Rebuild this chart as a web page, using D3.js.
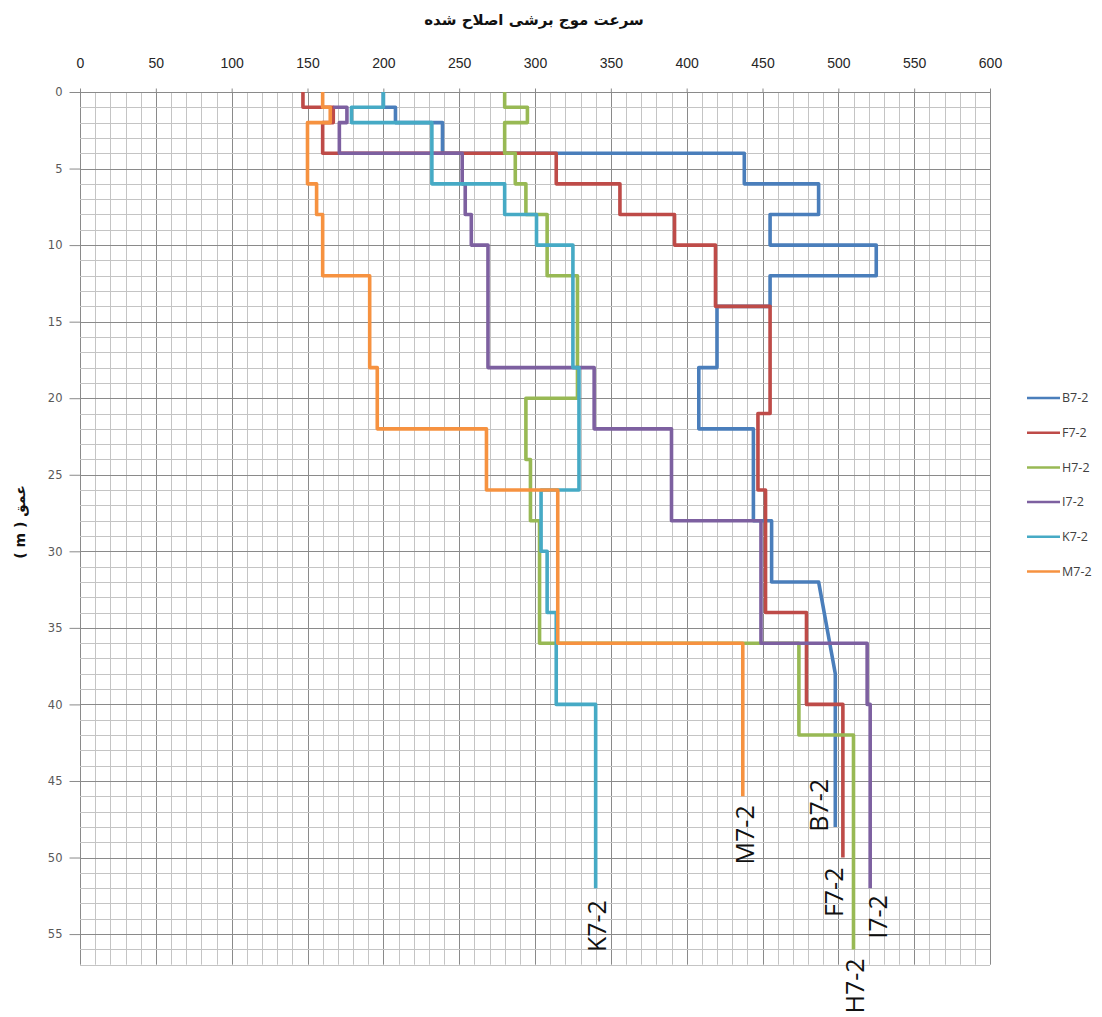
<!DOCTYPE html>
<html>
<head>
<meta charset="utf-8">
<script src="https://cdn.jsdelivr.net/npm/d3@7"></script>
<style>
  body { margin: 0; background: #fff; }
  svg { display: block; }
</style>
</head>
<body>
<svg id="chart" width="1102" height="1017"></svg>
<script>
// Corrected shear-wave velocity profiles, vertices as [velocity (m/s), depth (m)]
const B7_2 = [[200,0],[200,1],[208,1],[208,2],[239,2],[239,4],[438,4],[438,6],[487,6],[487,8],
  [455,8],[455,10],[525,10],[525,12],[455,12],[455,14],[420,14],[420,18],[408,18],[408,22],
  [444,22],[444,28],[456,28],[456,32],[487,32],[498,38],[498,48]];
const F7_2 = [[147,0],[147,1],[167,1],[167,2],[160,2],[160,4],[314,4],[314,6],[356,6],[356,8],
  [392,8],[392,10],[419,10],[419,14],[455,14],[455,21],[447,21],[447,26],[452,26],[452,34],
  [479,34],[479,40],[503,40],[503,50]];
const H7_2 = [[280,0],[280,1],[295,1],[295,2],[280,2],[280,4],[287,4],[287,6],[294,6],[294,8],
  [308,8],[308,12],[328,12],[328,20],[294,20],[294,24],[297,24],[297,28],[303,28],[303,36],
  [474,36],[474,42],[510,42],[510,56]];
const I7_2 = [[167,1],[176,1],[176,2],[171,2],[171,4],[252,4],[252,6],[254,6],[254,8],[258,8],
  [258,10],[269,10],[269,18],[339,18],[339,22],[390,22],[390,28],[449,28],[449,36],[519,36],
  [519,40],[521,40],[521,52]];
const K7_2 = [[200,0],[200,1],[179,1],[179,2],[232,2],[232,6],[280,6],[280,8],[301,8],[301,10],
  [325,10],[325,18],[329,18],[329,26],[304,26],[304,30],[308,30],[308,34],[314,34],[314,40],
  [340,40],[340,52]];
const M7_2 = [[160,0],[160,1],[165,1],[165,2],[150,2],[150,6],[156,6],[156,8],[160,8],[160,12],
  [191,12],[191,18],[196,18],[196,22],[268,22],[268,26],[315,26],[315,36],[437,36],[437,46]];

const seriesNames = ["B7-2", "F7-2", "H7-2", "I7-2", "K7-2", "M7-2"];
const seriesData = [B7_2, F7_2, H7_2, I7_2, K7_2, M7_2];
const seriesColors = ["#4A7EBB", "#BE4B48", "#98B954", "#7D60A0", "#46AAC5", "#F69240"];

const velocityTicks = [0, 50, 100, 150, 200, 250, 300, 350, 400, 450, 500, 550, 600];
const depthTicks = [0, 5, 10, 15, 20, 25, 30, 35, 40, 45, 50, 55];

const titleText = "سرعت موج برشی اصلاح شده";
const depthTitle = "عمق ( m )";

const svg = d3.select("#chart");

const x = d3.scaleLinear().domain([0, 600]).range([80, 990]);
const y = d3.scaleLinear().domain([0, 57]).range([92, 964.7]);

// background grid: minor every 10 m/s and 1 m, major every 50 m/s and 5 m
const grid = svg.append("g");
grid.selectAll("line.vminor")
  .data(d3.range(0, 601, 10))
  .join("line")
  .attr("x1", d => Math.round(x(d)) + 0.5).attr("x2", d => Math.round(x(d)) + 0.5)
  .attr("y1", y(0)).attr("y2", y(57))
  .attr("stroke", d => d % 50 === 0 ? "#8a8a8a" : "#c4c4c4")
  .attr("stroke-width", 1);
grid.selectAll("line.hminor")
  .data(d3.range(0, 58, 1))
  .join("line")
  .attr("y1", d => Math.round(y(d)) + 0.5).attr("y2", d => Math.round(y(d)) + 0.5)
  .attr("x1", x(0)).attr("x2", x(600))
  .attr("stroke", d => d % 5 === 0 ? "#8a8a8a" : "#c4c4c4")
  .attr("stroke-width", 1);

// top velocity axis
const topAxis = svg.append("g")
  .attr("transform", `translate(0,${Math.round(y(0)) + 0.5})`)
  .call(d3.axisTop(x).tickValues(velocityTicks).tickSize(4).tickPadding(21).tickFormat(d3.format("d")));
topAxis.select(".domain").remove();
topAxis.selectAll("line").attr("stroke", "#8a8a8a");
topAxis.selectAll("text")
  .attr("font-family", "'Liberation Sans Narrow', 'Liberation Sans', sans-serif")
  .attr("font-size", 14).attr("fill", "#262626");

// left depth axis
const leftAxis = svg.append("g")
  .attr("transform", `translate(${Math.round(x(0)) + 0.5},0)`)
  .call(d3.axisLeft(y).tickValues(depthTicks).tickSize(11).tickPadding(7).tickFormat(d3.format("d")));
leftAxis.select(".domain").remove();
leftAxis.selectAll("line").attr("stroke", "#8a8a8a");
leftAxis.selectAll("text")
  .attr("font-family", "'DejaVu Sans', sans-serif")
  .attr("font-size", 11.5).attr("fill", "#595959");

// profiles
const line = d3.line().x(d => x(d[0])).y(d => y(d[1]));
svg.append("g").selectAll("path")
  .data(seriesData)
  .join("path")
  .attr("d", line)
  .attr("fill", "none")
  .attr("stroke", (d, i) => seriesColors[i])
  .attr("stroke-width", 3.6)
  .attr("stroke-linejoin", "round")
  .attr("stroke-linecap", "butt");

// end-of-profile labels, rotated to read bottom-to-top
const labelOffset = {
  "B7-2": [-17, -48], "F7-2": [-10, 10], "H7-2": [0, 9],
  "I7-2": [7, 7], "K7-2": [0, 12], "M7-2": [1, 9]
};
svg.append("g").selectAll("text")
  .data(seriesData)
  .join("text")
  .each(function (d, i) {
    const end = d[d.length - 1];
    const off = labelOffset[seriesNames[i]];
    const px = x(end[0]) + off[0], py = y(end[1]) + off[1];
    d3.select(this)
      .attr("transform", `translate(${px},${py}) rotate(-90)`)
      .attr("text-anchor", "end")
      .attr("dominant-baseline", "central")
      .text(seriesNames[i]);
  })
  .attr("font-family", "'Open Sans', sans-serif")
  .attr("font-size", 25)
  .attr("fill", "#111");

// legend
const legend = svg.append("g").attr("transform", "translate(1027,398)");
const rows = legend.selectAll("g")
  .data(seriesNames)
  .join("g")
  .attr("transform", (d, i) => `translate(0,${i * 34.7})`);
rows.append("line")
  .attr("x1", 0).attr("x2", 33).attr("y1", 0).attr("y2", 0)
  .attr("stroke", (d, i) => seriesColors[i]).attr("stroke-width", 2.5);
rows.append("text")
  .attr("x", 35).attr("y", 0).attr("dy", "0.35em")
  .attr("font-family", "'Open Sans', sans-serif")
  .attr("font-size", 12.5).attr("fill", "#404040")
  .text(d => d);

// titles
svg.append("text")
  .attr("x", 534).attr("y", 25)
  .attr("text-anchor", "middle")
  .attr("direction", "rtl")
  .attr("font-family", "'DejaVu Sans', sans-serif")
  .attr("font-weight", "bold")
  .attr("font-size", 15)
  .attr("fill", "#111")
  .text(titleText);

svg.append("text")
  .attr("transform", "translate(20,522) rotate(-90)")
  .attr("text-anchor", "middle")
  .attr("direction", "rtl")
  .attr("dominant-baseline", "central")
  .attr("font-family", "'DejaVu Sans', sans-serif")
  .attr("font-weight", "bold")
  .attr("font-size", 14)
  .attr("fill", "#111")
  .text(depthTitle);
</script>
</body>
</html>
